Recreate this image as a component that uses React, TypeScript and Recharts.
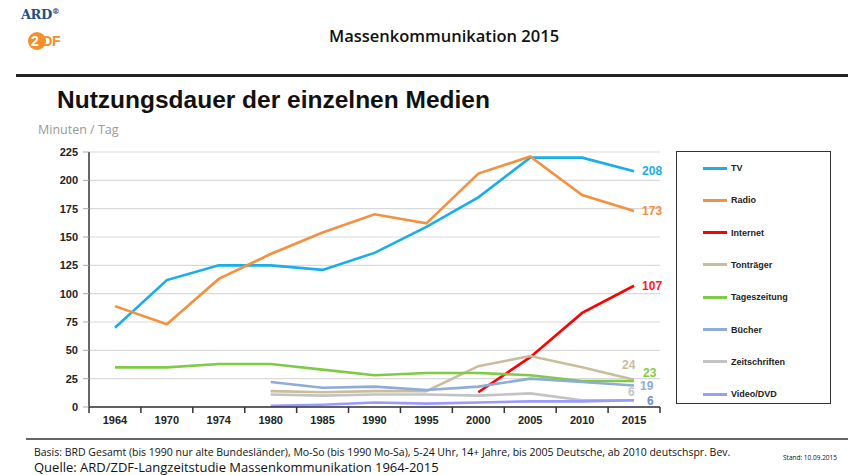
import React from 'react';
import { LineChart, Line, XAxis, YAxis, CartesianGrid, LabelList } from 'recharts';

const years = ['1964', '1970', '1974', '1980', '1985', '1990', '1995', '2000', '2005', '2010', '2015'];
const tv = [70, 112, 125, 125, 121, 136, 159, 185, 220, 220, 208];
const radio = [89, 73, 113, 135, 154, 170, 162, 206, 221, 187, 173];
const internet = [null, null, null, null, null, null, null, 13, 44, 83, 107];
const tontraeger = [null, null, null, 14, 13, 14, 14, 36, 45, 35, 24];
const tageszeitung = [35, 35, 38, 38, 33, 28, 30, 30, 28, 23, 23];
const buecher = [null, null, null, 22, 17, 18, 15, 18, 25, 22, 19];
const zeitschriften = [null, null, null, 11, 10, 11, 11, 10, 12, 6, 6];
const video = [null, null, null, 1, 2, 4, 3, 4, 5, 5, 6];
const yTicks = [0, 25, 50, 75, 100, 125, 150, 175, 200, 225];

const seriesNames = ['TV', 'Radio', 'Internet', 'Tonträger', 'Tageszeitung', 'Bücher', 'Zeitschriften', 'Video/DVD'];
const seriesValues = [tv, radio, internet, tontraeger, tageszeitung, buecher, zeitschriften, video];
const seriesColors = ['#17aeea', '#f4903f', '#ff0000', '#c9bd9c', '#7fcb45', '#8fabd8', '#c3c3c3', '#9a9bff'];
const labelColors = ['#17aeea', '#f4903f', '#ff1a1a', '#c9bd9c', '#7fcb45', '#8fabd8', '#c3c3c3', '#6a8fd6'];
const labelOffsets = [
  [8, 0], [8, 0], [8, 0], [-12, -15], [9, -8], [6, 1], [-6, -8], [13, 1],
];

const data = years.map((y, i) => {
  const row: any = { year: y };
  seriesNames.forEach((n, s) => {
    row[n] = seriesValues[s][i];
  });
  return row;
});

const M_LEFT = 39;
const Y_W = 50;
const M_RIGHT = 188;
const W = 848;
const PLOT_W = W - M_RIGHT - M_LEFT - Y_W;
const HALF_BAND = PLOT_W / years.length / 2;

const font = '"Liberation Sans", Arial, sans-serif';

const XTick = (props: any) => {
  const { x, y, payload, index } = props;
  return (
    <g>
      <line x1={x - HALF_BAND} y1={y} x2={x - HALF_BAND} y2={y + 6} stroke="#333" strokeWidth={1.5} />
      {index === years.length - 1 && (
        <line x1={x + HALF_BAND} y1={y} x2={x + HALF_BAND} y2={y + 6} stroke="#333" strokeWidth={1.5} />
      )}
      <text x={x} y={y + 17} textAnchor="middle" fontFamily={font} fontWeight="bold" fontSize={11} fill="#222">
        {payload.value}
      </text>
    </g>
  );
};

const makeEndLabel = (s: number) => (props: any) => {
  const { x, y, value, index } = props;
  if (index !== years.length - 1 || value == null) return null;
  return (
    <text
      x={x + labelOffsets[s][0]}
      y={y + labelOffsets[s][1]}
      dominantBaseline="central"
      fontFamily={font}
      fontWeight="bold"
      fontSize={12}
      fill={labelColors[s]}
    >
      {value}
    </text>
  );
};

export default function App() {
  return (
    <div style={{ position: 'absolute', left: 0, top: 0, width: 848, height: 475, background: '#fff', overflow: 'hidden' }}>
      {/* logos */}
      <div style={{ position: 'absolute', left: 21, top: 6, fontFamily: '"DejaVu Serif", serif', fontWeight: 'bold', fontSize: 13, color: '#1d4f8f', letterSpacing: -0.5 }}>
        ARD<sup style={{ fontSize: 8 }}>®</sup>
      </div>
      <div style={{ position: 'absolute', left: 28, top: 32, width: 18, height: 18, borderRadius: '50%', background: '#f39029' }} />
      <div style={{ position: 'absolute', left: 31, top: 33, fontFamily: font, fontWeight: 'bold', fontSize: 14, color: '#fff', letterSpacing: -0.5 }}>
        2<span style={{ color: '#f39029', marginLeft: 4 }}>DF</span>
      </div>
      <div style={{ position: 'absolute', left: 0, width: 888, top: 24, textAlign: 'center', fontFamily: '"Open Sans", sans-serif', fontWeight: 600, fontSize: 16.5, color: '#111' }}>
        Massenkommunikation 2015
      </div>
      <div style={{ position: 'absolute', left: 16, right: 0, top: 74, height: 3, background: '#222' }} />
      <div style={{ position: 'absolute', left: 57, top: 86, fontFamily: font, fontWeight: 'bold', fontSize: 24.5, color: '#111' }}>
        Nutzungsdauer der einzelnen Medien
      </div>
      <div style={{ position: 'absolute', left: 38, top: 121, fontFamily: '"Open Sans", sans-serif', fontSize: 12.5, color: '#999' }}>
        Minuten / Tag
      </div>

      <div style={{ position: 'absolute', left: 0, top: 0 }}>
        <LineChart width={848} height={475} data={data} margin={{ top: 152, right: M_RIGHT, bottom: 38, left: M_LEFT }}>
          <CartesianGrid vertical={false} stroke="#d9d9d9" strokeWidth={1.2} />
          <XAxis
            dataKey="year"
            height={30}
            tickSize={0}
            tickMargin={0}
            padding={{ left: HALF_BAND, right: HALF_BAND }}
            axisLine={{ stroke: '#333', strokeWidth: 1.5 }}
            tick={<XTick />}
            interval={0}
          />
          <YAxis
            width={Y_W}
            domain={[0, 225]}
            ticks={yTicks}
            interval={0}
            tickSize={6}
            tickMargin={5}
            axisLine={{ stroke: '#333', strokeWidth: 1.5 }}
            tickLine={{ stroke: '#aaa' }}
            tick={{ fontFamily: font, fontWeight: 'bold', fontSize: 11, fill: '#222' }}
          />
          {seriesNames.map((n, s) => (
            <Line
              key={n}
              dataKey={n}
              stroke={seriesColors[s]}
              strokeWidth={2.6}
              dot={false}
              activeDot={false}
              isAnimationActive={false}
              type="linear"
            >
              <LabelList dataKey={n} content={makeEndLabel(s)} />
            </Line>
          ))}
        </LineChart>
      </div>

      {/* legend */}
      <div style={{ position: 'absolute', left: 676, top: 151, width: 155, height: 253, border: '1.5px solid #333', boxSizing: 'border-box' }}>
        {seriesNames.map((n, s) => (
          <div key={n} style={{ position: 'absolute', left: 26, top: 10 + s * 32.3, display: 'flex', alignItems: 'center', height: 12 }}>
            <div style={{ width: 24, height: 3, background: seriesColors[s] }} />
            <span style={{ marginLeft: 4, fontFamily: font, fontWeight: 'bold', fontSize: 9, color: '#222' }}>{n}</span>
          </div>
        ))}
      </div>

      <div style={{ position: 'absolute', left: 26, right: 0, top: 438, height: 2, background: '#666' }} />
      <div style={{ position: 'absolute', left: 34, top: 445, fontFamily: '"Open Sans", sans-serif', fontSize: 10.5, color: '#111', whiteSpace: 'nowrap' }}>
        Basis: BRD Gesamt (bis 1990 nur alte Bundesländer), Mo-So (bis  1990 Mo-Sa), 5-24 Uhr, 14+ Jahre, bis 2005 Deutsche, ab 2010  deutschspr. Bev.
      </div>
      <div style={{ position: 'absolute', left: 783, top: 453, fontFamily: '"Open Sans", sans-serif', fontSize: 6.5, color: '#111', whiteSpace: 'nowrap' }}>
        Stand: 10.09.2015
      </div>
      <div style={{ position: 'absolute', left: 34, top: 458, fontFamily: '"Open Sans", sans-serif', fontSize: 13, color: '#111', whiteSpace: 'nowrap' }}>
        Quelle: ARD/ZDF-Langzeitstudie Massenkommunikation 1964-2015
      </div>
    </div>
  );
}
